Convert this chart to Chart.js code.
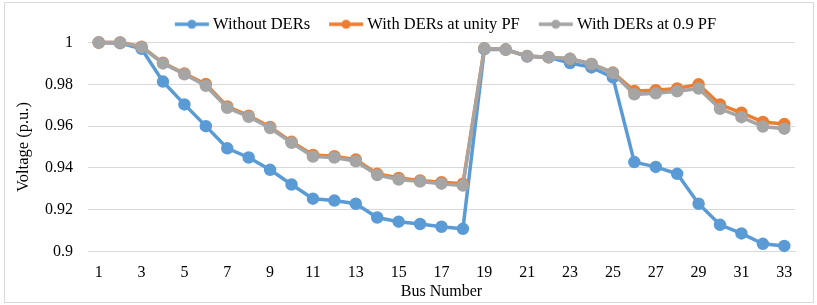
<!DOCTYPE html>
<html>
<head>
<meta charset="utf-8">
<script src="https://cdn.jsdelivr.net/npm/chart.js@4"></script>
<style>
  html, body { margin: 0; padding: 0; background: #fff; }
  #wrap { position: relative; width: 817px; height: 305px; }
  #frame { position: absolute; left: 4px; top: 2px; width: 808px; height: 299px; border: 1px solid #d9d9d9; pointer-events: none; }
</style>
</head>
<body>
<div id="wrap">
  <canvas id="graficaVoltaje" width="817" height="305"></canvas>
  <div id="frame"></div>
</div>
<script>
// Datos
const busNumbers = ['1','2','3','4','5','6','7','8','9','10','11','12','13','14','15','16','17',
                    '18','19','20','21','22','23','24','25','26','27','28','29','30','31','32','33'];
const withoutDERs = [1.0, 0.9997, 0.997, 0.9813, 0.9704, 0.960, 0.9494, 0.945, 0.9391, 0.9321, 0.9253,
                     0.9244, 0.9229, 0.9163, 0.9143, 0.9132, 0.9119, 0.9109, 0.9968, 0.9966, 0.9933,
                     0.9929, 0.9902, 0.9881, 0.9833, 0.9428, 0.9405, 0.9372, 0.9229, 0.9128, 0.9087,
                     0.9037, 0.9027];
const unityPF = [1.0, 1.0, 0.998, 0.9903, 0.9852, 0.9801, 0.9694, 0.965, 0.9596, 0.9525, 0.9462,
                 0.9456, 0.944, 0.9372, 0.9352, 0.934, 0.9332, 0.9325, 0.9972, 0.9966, 0.9935,
                 0.993, 0.9922, 0.9897, 0.9856, 0.9768, 0.9772, 0.978, 0.98, 0.9703, 0.9664,
                 0.962, 0.961];
const pf09 = [1.0, 1.0, 0.9978, 0.99, 0.9848, 0.9793, 0.9688, 0.9645, 0.9591, 0.952, 0.9455,
              0.945, 0.9432, 0.9366, 0.9345, 0.9335, 0.9325, 0.9316, 0.9972, 0.9966, 0.9935,
              0.993, 0.9922, 0.9897, 0.9854, 0.9752, 0.9757, 0.9767, 0.978, 0.9683, 0.9643,
              0.9598, 0.9588];
const yTicks = [0.9, 0.92, 0.94, 0.96, 0.98, 1];

const fuente = 'Liberation Serif, Times New Roman, serif';

//Icono de leyenda: linea con marcador (desplazado a la derecha para acercarlo al texto)
function iconoLeyenda(color){
    const c = document.createElement('canvas');
    c.width = 46; c.height = 12;
    const ctx = c.getContext('2d');
    ctx.strokeStyle = color;
    ctx.lineWidth = 3.5;
    ctx.beginPath();
    ctx.moveTo(11, 6); ctx.lineTo(45, 6);
    ctx.stroke();
    ctx.fillStyle = color;
    ctx.beginPath();
    ctx.arc(28, 6, 4.5, 0, Math.PI * 2);
    ctx.fill();
    return c;
}

//Plugin para mover la leyenda a la derecha
const moverLeyenda = {
    id: 'moverLeyenda',
    afterLayout: function(chart){
        const lg = chart.legend;
        if (lg) { lg.left += 38; lg.right += 38; }
    }
};

const data = {
    labels: busNumbers,
    datasets: [{
        label: 'Without DERs',
        data: withoutDERs,
        borderColor: '#5b9bd5',
        backgroundColor: '#5b9bd5',
        icono: iconoLeyenda('#5b9bd5'),
        order: 3
    }, {
        label: 'With DERs at unity PF',
        data: unityPF,
        borderColor: '#ed7d31',
        backgroundColor: '#ed7d31',
        icono: iconoLeyenda('#ed7d31'),
        order: 2
    }, {
        label: 'With DERs at 0.9 PF',
        data: pf09,
        borderColor: '#a5a5a5',
        backgroundColor: '#a5a5a5',
        icono: iconoLeyenda('#a5a5a5'),
        order: 1
    }]
};

const config = {
    type: 'line',
    data: data,
    plugins: [moverLeyenda],
    options: {
        responsive: false,
        animation: false,
        devicePixelRatio: 1,
        datasets: { line: { clip: false, tension: 0, borderWidth: 3.5 } },
        elements: { point: { pointStyle: 'circle', radius: 4.5, borderWidth: 0 } },
        layout: { padding: { left: 14, right: 22, top: 3, bottom: 4 } },
        plugins: {
            legend: {
                position: 'top',
                labels: {
                    usePointStyle: true,
                    pointStyleWidth: 36,
                    boxHeight: 12,
                    padding: 13,
                    color: '#000',
                    font: { family: fuente, size: 16.5 },
                    generateLabels: function(chart){
                        return chart.data.datasets.map(function(ds, i){
                            return {
                                text: ds.label,
                                pointStyle: ds.icono,
                                fillStyle: ds.borderColor,
                                strokeStyle: ds.borderColor,
                                lineWidth: 0,
                                fontColor: '#000',
                                datasetIndex: i
                            };
                        });
                    }
                }
            },
            tooltip: { enabled: false }
        },
        scales: {
            x: {
                offset: true,
                grid: { display: false, drawTicks: false },
                border: { display: true, color: '#d9d9d9', width: 1 },
                ticks: {
                    autoSkip: false,
                    maxRotation: 0,
                    padding: 12,
                    color: '#000',
                    font: { family: fuente, size: 16 },
                    callback: function(v, i){ return i % 2 === 0 ? busNumbers[i] : ''; }
                },
                title: {
                    display: true,
                    text: 'Bus Number',
                    color: '#000',
                    padding: { top: -13, bottom: 0 },
                    font: { family: fuente, size: 16 }
                }
            },
            y: {
                min: 0.9,
                max: 1,
                afterBuildTicks: function(scale){
                    scale.ticks = yTicks.map(function(v){ return { value: v }; });
                },
                afterFit: function(scale){ scale.width = 74; },
                grid: { color: '#d9d9d9', drawTicks: false },
                border: { display: false },
                ticks: {
                    padding: 15,
                    color: '#000',
                    font: { family: fuente, size: 16 },
                    callback: function(v){ return String(Math.round(v * 100) / 100); }
                },
                title: {
                    display: true,
                    text: 'Voltage (p.u.)',
                    color: '#000',
                    padding: { top: 0, bottom: 0 },
                    font: { family: fuente, size: 16.5 }
                }
            }
        }
    }
};

const myChart = new Chart(
    document.getElementById('graficaVoltaje'),
    config
);
</script>
</body>
</html>
